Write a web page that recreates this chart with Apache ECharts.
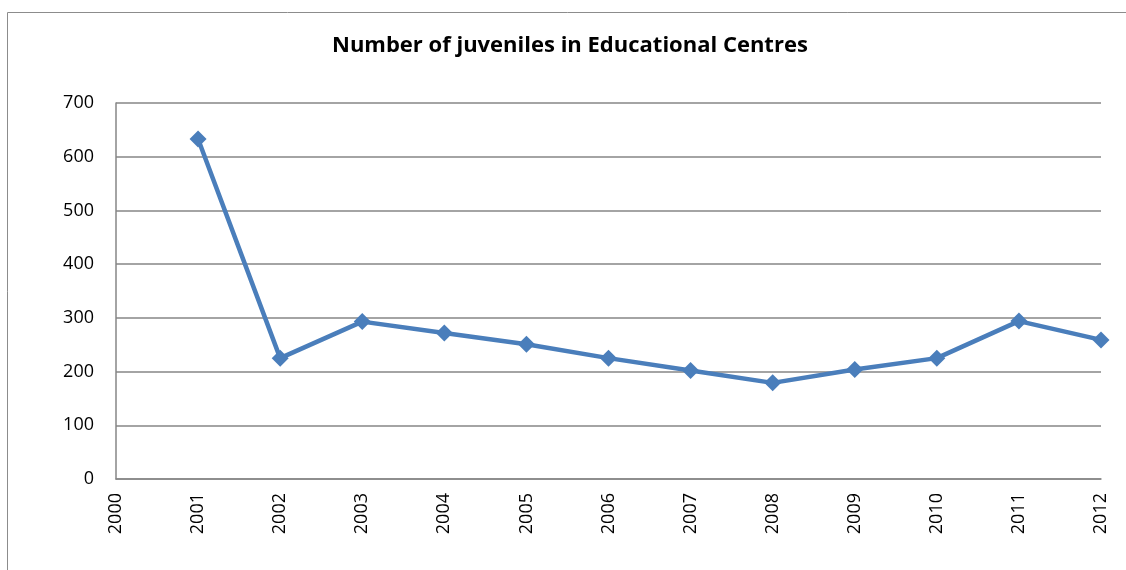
<!DOCTYPE html>
<html>
<head>
<meta charset="utf-8">
<script src="https://cdn.jsdelivr.net/npm/echarts@6/dist/echarts.min.js"></script>
<style>
  html, body { margin: 0; padding: 0; background: #fff; }
  #chart { width: 1126px; height: 570px; }
</style>
</head>
<body>
<div id="chart"></div>
<script>
// years on the x axis (2000 has no value)
var years = ['2000', '2001', '2002', '2003', '2004', '2005', '2006',
             '2007', '2008', '2009', '2010', '2011', '2012'];
var juveniles = [null, 633, 225, 293, 272, 251, 225, 202, 179, 204, 225, 294, 259];

var chart = echarts.init(document.getElementById('chart'));
chart.setOption({
    animation: false,
    title: {
        text: 'Number of juveniles in Educational Centres',
        left: 327,
        top: 30,
        textStyle: {
            fontFamily: 'Open Sans',
            fontWeight: 'bold',
            fontSize: 22,
            color: '#000'
        }
    },
    graphic: [{
        type: 'rect',
        shape: { x: 7.5, y: 12.5, width: 1200, height: 600 },
        style: { fill: 'none', stroke: '#8c8c8c', lineWidth: 1 }
    }],
    grid: { left: 116, right: 25, top: 103, bottom: 91 },
    xAxis: {
        type: 'category',
        data: years,
        boundaryGap: false,
        axisLine: { lineStyle: { color: '#868686', width: 1.5 } },
        axisTick: { show: false },
        axisLabel: {
            rotate: 90,
            margin: 14,
            fontFamily: 'Open Sans',
            fontSize: 18,
            color: '#000'
        }
    },
    yAxis: {
        type: 'value',
        min: 0,
        max: 700,
        interval: 100,
        axisLine: { show: true, lineStyle: { color: '#868686', width: 1.5 } },
        axisTick: { show: false },
        splitLine: { lineStyle: { color: '#868686', width: 1.5 } },
        axisLabel: {
            margin: 22,
            fontFamily: 'Open Sans',
            fontSize: 18,
            color: '#000'
        }
    },
    series: [{
        name: 'Juveniles',
        type: 'line',
        data: juveniles,
        symbol: 'diamond',
        symbolSize: 17,
        lineStyle: { color: '#4a7ebb', width: 4.5 },
        itemStyle: { color: '#4a7ebb' }
    }]
});
</script>
</body>
</html>
